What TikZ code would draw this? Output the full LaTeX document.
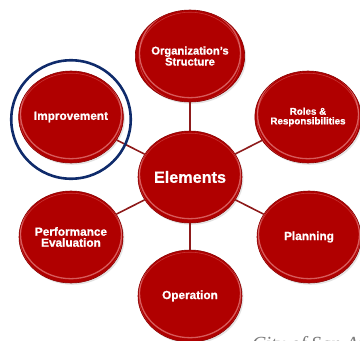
\documentclass[tikz,border=0pt]{standalone}
\usepackage{fontspec}
\setmainfont{Liberation Sans}[BoldFeatures={FakeBold=0.8}]
\newfontfamily\citefont{Liberation Serif}
\usetikzlibrary{shapes.geometric,shadows}
\definecolor{bubred}{HTML}{B00000}
\definecolor{bubedge}{HTML}{8A0000}
\definecolor{linkred}{HTML}{8E1B1B}
\definecolor{ringblue}{HTML}{0F2B6B}
\definecolor{rimpink}{HTML}{E47A7A}
\definecolor{citegray}{HTML}{7A7A7A}
\begin{document}
\begin{tikzpicture}[x=1pt,y=-1pt,
  bubble/.style={ellipse, minimum width=104pt, minimum height=92pt, inner sep=0pt,
    fill=bubred, draw=bubedge, line width=0.6pt, text=white, align=center,
    font=\bfseries\fontsize{11.8}{11}\selectfont,
    drop shadow={opacity=0.22, shadow xshift=1.5pt, shadow yshift=-1.8pt},
    path picture={
      \draw[rimpink, line width=1.3pt, opacity=0.75]
        ([yshift=2.8pt]path picture bounding box.center) ellipse [x radius=50.5pt, y radius=44.5pt];
      \draw[rimpink, line width=0.6pt, opacity=0.45]
        ([yshift=-1.2pt]path picture bounding box.center) ellipse [x radius=51pt, y radius=45pt];
    }},
  link/.style={draw=linkred, line width=1.6pt},
  ring/.style={ellipse, draw=ringblue, line width=2.6pt, minimum width=119.5pt, minimum height=118.5pt, inner sep=0pt}
]
\path[use as bounding box] (0,0) rectangle (360,341);
\clip (0,0) rectangle (360,341);

\node[bubble, font=\bfseries\fontsize{11.2}{11}\selectfont] (org) at (190,56) {Organization's\\Structure};
\node[bubble] (imp) at (71,117) {Improvement};
\node[bubble, font=\bfseries\fontsize{9.8}{9.6}\selectfont] (roles) at (308,117) {Roles \&\\Responsibilities};
\node[bubble, font=\bfseries\fontsize{16.2}{18}\selectfont] (elem) at (190,177) {Elements};
\node[bubble] (perf) at (71,237) {Performance\\Evaluation};
\node[bubble] (plan) at (309,237) {Planning};
\node[bubble] (oper) at (190,296) {Operation};

\draw[link] (elem) -- (org);
\draw[link] (elem) -- (imp);
\draw[link] (elem) -- (roles);
\draw[link] (elem) -- (perf);
\draw[link] (elem) -- (plan);
\draw[link] (elem) -- (oper);

\node[ring] (focus) at (71,119.5) {};

\node[anchor=base west, inner sep=0pt, text=citegray,
  font=\citefont\itshape\fontsize{20}{24}\selectfont] (cite) at (252,350) {City of San Antonio};
\end{tikzpicture}
\end{document}
